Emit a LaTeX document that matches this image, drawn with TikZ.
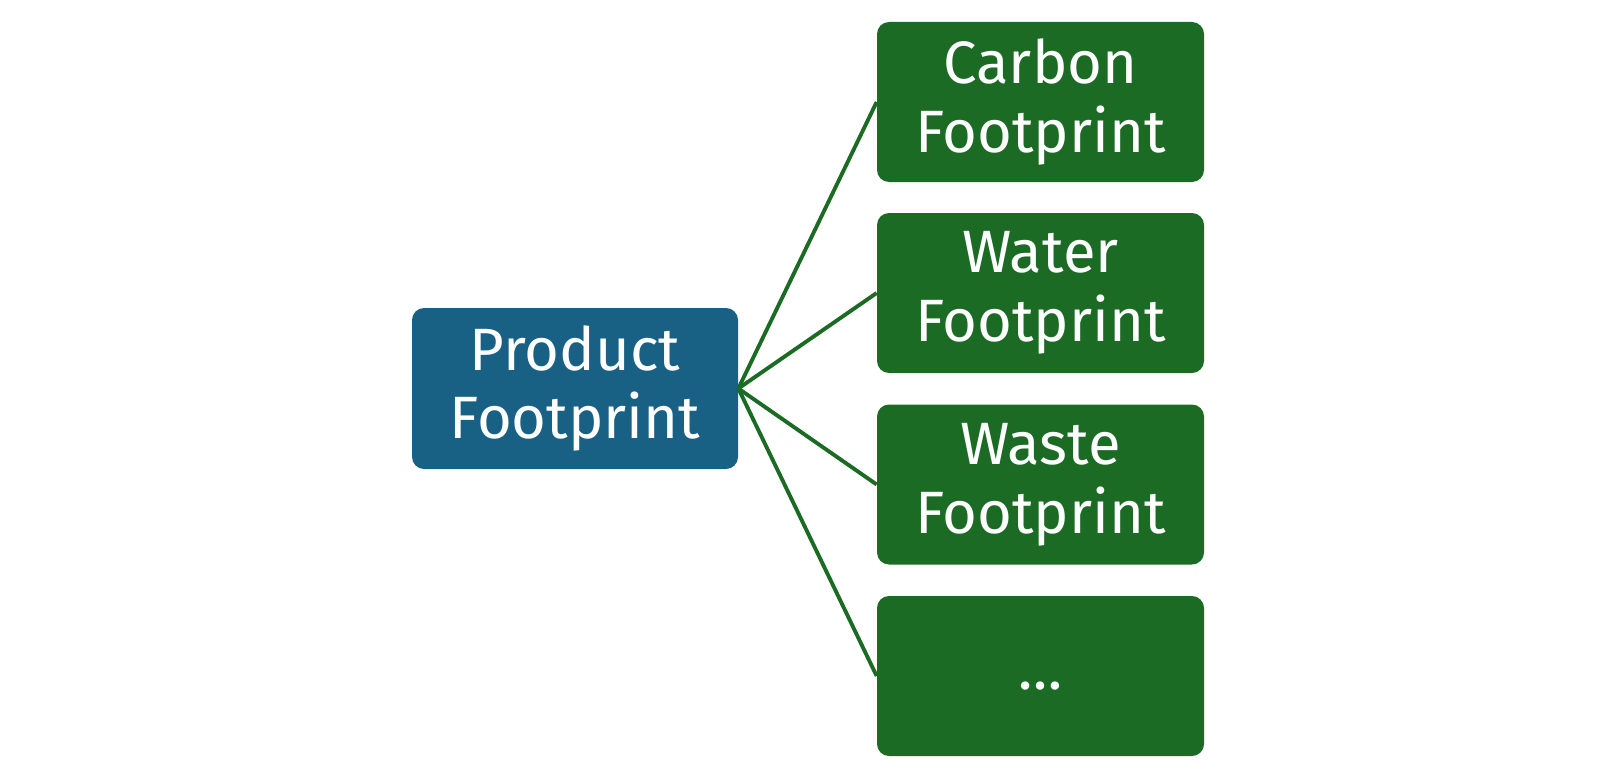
\documentclass[tikz,border=0pt]{standalone}
\usepackage{fontspec}
\setmainfont{Fira Sans}
\definecolor{prodblue}{HTML}{186184}
\definecolor{footgreen}{HTML}{1B6B24}
\tikzset{
	prodbox/.style={fill=prodblue, rounded corners=0.24cm, minimum width=6.52cm, minimum height=3.22cm, align=center, text=white, font=\fontsize{34}{39.2}\selectfont, inner sep=0pt},
	footbox/.style={fill=footgreen, rounded corners=0.24cm, minimum width=6.54cm, minimum height=3.2cm, align=center, text=white, font=\fontsize{34}{39.2}\selectfont, inner sep=0pt},
	link/.style={draw=footgreen, line width=2.2pt}
}
\begin{document}
\begin{tikzpicture}
		\useasboundingbox (0, 0) rectangle (32.44, 15.4);
		\node [prodbox] (0) at (11.5, 7.63) {Product\\Footprint};
		\node [footbox] (1) at (20.81, 13.36) {Carbon\\Footprint};
		\node [footbox] (2) at (20.81, 9.54) {Water\\Footprint};
		\node [footbox] (3) at (20.81, 5.71) {Waste\\Footprint};
		\node [footbox] (4) at (20.81, 1.88) {\strut\dots};
		\foreach \i in {1,...,4}
			\draw [link] (0.east) -- (\i.west);
	\end{tikzpicture}
\end{document}
